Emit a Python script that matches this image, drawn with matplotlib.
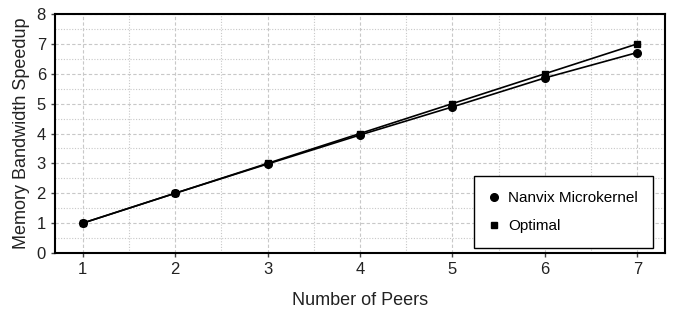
import matplotlib
matplotlib.use('Agg')
import matplotlib.pyplot as plt
import numpy as np

peers = [1, 2, 3, 4, 5, 6, 7]
nanvix = [1.0, 2.0, 2.98, 3.95, 4.89, 5.86, 6.71]
optimal = [1, 2, 3, 4, 5, 6, 7]

plt.rcParams['font.family'] = ['Liberation Sans', 'DejaVu Sans']

fig = plt.figure(figsize=(6.78, 3.09), dpi=100)
ax = fig.add_axes([55 / 678, 1 - 253 / 309, 610 / 678, 239 / 309])

ax.plot(peers, nanvix, c='k', marker='o', ms=5.5, lw=1.2, label='Nanvix Microkernel')
ax.plot(peers, optimal, c='k', marker='s', ms=5, lw=1.2, label='Optimal')

ax.set_xlim(0.7, 7.3)
ax.set_ylim(0, 8)
ax.set_xticks(peers)
ax.set_yticks(np.arange(0, 9, 1))
ax.set_xticks(np.arange(1.5, 7, 1), minor=True)
ax.set_yticks(np.arange(0.5, 8, 1), minor=True)
ax.tick_params(which='minor', length=0)
ax.tick_params(which='major', length=3, width=1, labelsize=12, color='#444444', labelcolor='#222222')
ax.grid(which='major', color='#c8c8c8', linestyle=(0, (3, 2)), lw=0.8)
ax.grid(which='minor', color='#c8c8c8', linestyle=(0, (1, 1.5)), lw=0.8)
ax.set_axisbelow(True)
for s in ax.spines.values():
    s.set_linewidth(1.5)

ax.set_xlabel('Number of Peers', fontsize=13, labelpad=11, color='#222222')
ax.set_ylabel('Memory Bandwidth Speedup', fontsize=13, labelpad=5, color='#222222')

leg = ax.legend(loc='lower right', fancybox=False, framealpha=1, edgecolor='k',
                fontsize=11, borderpad=1.0, handlelength=0.6, handletextpad=0.6,
                labelspacing=0.9, borderaxespad=0, bbox_to_anchor=(0.98, 0.02))
leg.get_frame().set_linewidth(1.0)
for h in leg.get_lines():
    h.set_linestyle('')

plt.savefig('out.png', dpi=100)
